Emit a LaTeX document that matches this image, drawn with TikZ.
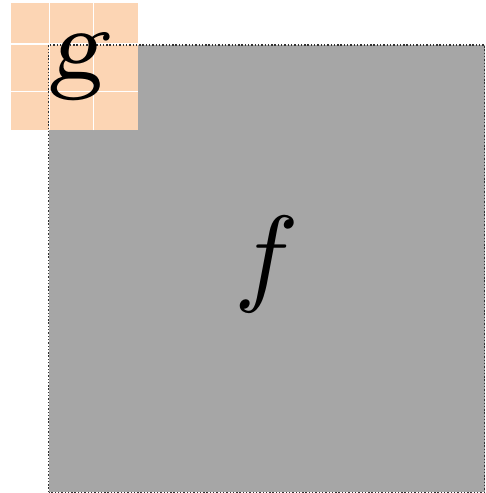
\documentclass[tikz,border=0pt]{standalone}
\definecolor{peachfill}{RGB}{252,213,180}
\definecolor{boxgray}{RGB}{166,166,166}
\definecolor{edgegray}{RGB}{50,50,50}
\usepackage{tikz}
\usetikzlibrary{positioning}

\begin{document}
\begin{tikzpicture}[x=1pt,y=1pt,
    bigletter/.style={inner sep=0pt, scale=10.3}]
  \useasboundingbox (0,0) rectangle (485,493);
  \fill[boxgray] (48.5,0.5) rectangle (484.5,448);
  \fill[peachfill] (11,362.5) rectangle (138.3,490);
  \draw[white, line width=1.3pt] (49.3,362.5) -- (49.3,490)
                                 (93.3,362.5) -- (93.3,490)
                                 (11,449) -- (138.3,449)
                                 (11,401.5) -- (138.3,401.5);
  \draw[edgegray, line width=1.2pt, dash pattern=on 1.4pt off 1.9pt]
    (48.5,0.8) rectangle (484.5,448);
  \node[inner sep=0pt, scale=13] (g) at (77,426) {\fontsize{8}{9}\selectfont\slshape g};
  \node[bigletter, scale=1.05] (f) at (267,229) {$f$};
\end{tikzpicture}
\end{document}
